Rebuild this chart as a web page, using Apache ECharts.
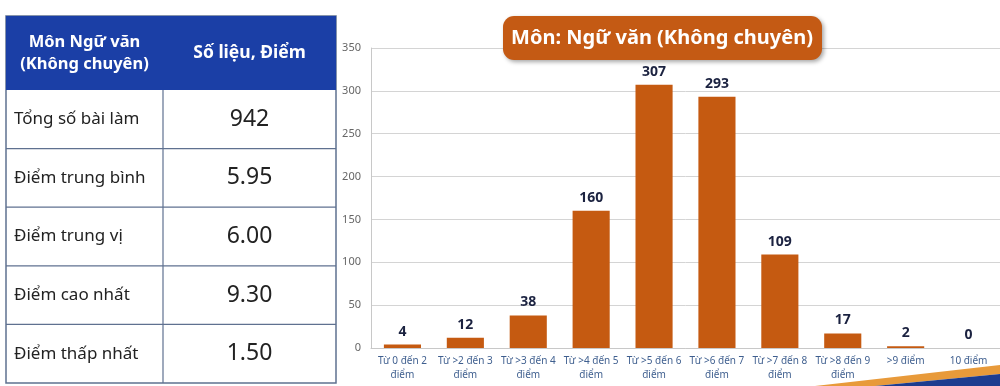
<!DOCTYPE html>
<html>
<head>
<meta charset="utf-8">
<script src="https://cdn.jsdelivr.net/npm/echarts@6/dist/echarts.min.js"></script>
<style>
html,body{margin:0;padding:0;background:#fff;}
#main{width:1000px;height:386px;}
</style>
</head>
<body>
<div id="main"></div>
<script>
const categories = ['Từ 0 đến 2\nđiểm','Từ >2 đến 3\nđiểm','Từ >3 đến 4\nđiểm','Từ >4 đến 5\nđiểm','Từ >5 đến 6\nđiểm','Từ >6 đến 7\nđiểm','Từ >7 đến 8\nđiểm','Từ >8 đến 9\nđiểm','>9 điểm','10 điểm'];
const counts = [4, 12, 38, 160, 307, 293, 109, 17, 2, 0];
const yTicks = [0, 50, 100, 150, 200, 250, 300, 350];
const chartTitle = 'Môn: Ngữ văn (Không chuyên)';
const tableHeader = ['Môn Ngữ văn\n(Không chuyên)', 'Số liệu, Điểm'];
const tableLabels = ['Tổng số bài làm', 'Điểm trung bình', 'Điểm trung vị', 'Điểm cao nhất', 'Điểm thấp nhất'];
const tableValues = ['942', '5.95', '6.00', '9.30', '1.50'];

const FONT = '"Noto Sans", "Open Sans", sans-serif';
const chart = echarts.init(document.getElementById('main'));

// table geometry
const tL = 6, tR = 336, tTop = 16, hBot = 90, tBot = 383, colX = 163;
const rowH = (tBot - hBot) / tableLabels.length;
const border = '#5f7190';
const g = [];
// bottom-right swoosh (behind everything)
g.push({type:'polygon', shape:{points:[[815,386],[1000,365],[1000,374],[875,386]]}, style:{fill:'#e89a3a'}, z:-10});
g.push({type:'polygon', shape:{points:[[875,386],[1000,374],[1000,386]]}, style:{fill:'#1d3c8f'}, z:-10});
g.push({type:'rect', shape:{x:tL, y:tTop, width:tR-tL, height:tBot-tTop}, style:{fill:'#fff', stroke:border, lineWidth:1.5}, z:10});
g.push({type:'rect', shape:{x:tL, y:tTop, width:tR-tL, height:hBot-tTop}, style:{fill:'#1b3fa6'}, z:11});
g.push({type:'text', x:(tL+colX)/2, y:(tTop+hBot)/2, style:{text:tableHeader[0], fill:'#fff', font:'bold 16.5px '+FONT, align:'center', verticalAlign:'middle', lineHeight:22}, z:12});
g.push({type:'text', x:(colX+tR)/2, y:(tTop+hBot)/2, style:{text:tableHeader[1], fill:'#fff', font:'bold 17.5px '+FONT, align:'center', verticalAlign:'middle'}, z:12});
g.push({type:'line', shape:{x1:colX, y1:hBot, x2:colX, y2:tBot}, style:{stroke:border, lineWidth:1.2}, z:12});
tableLabels.forEach((lab, i) => {
  const y0 = hBot + i*rowH;
  if (i > 0) g.push({type:'line', shape:{x1:tL, y1:y0, x2:tR, y2:y0}, style:{stroke:border, lineWidth:1.2}, z:12});
  g.push({type:'text', x:14, y:y0+rowH/2, style:{text:lab, fill:'#222', font:'17px '+FONT, align:'left', verticalAlign:'middle'}, z:12});
  g.push({type:'text', x:(colX+tR)/2, y:y0+rowH/2, style:{text:tableValues[i], fill:'#222', font:'23px '+FONT, align:'center', verticalAlign:'middle'}, z:12});
});
// title box
g.push({type:'rect', shape:{x:503, y:16, width:319, height:44, r:11}, style:{fill:'#c45a14', shadowBlur:4, shadowOffsetX:2, shadowOffsetY:2, shadowColor:'rgba(0,0,0,0.35)'}, z:10});
g.push({type:'text', x:662, y:38, style:{text:chartTitle, fill:'#fff', font:'bold 20px '+FONT, align:'center', verticalAlign:'middle'}, z:11});

chart.setOption({
  animation:false,
  backgroundColor:'#fff',
  grid:{left:371, right:0, top:48, bottom:38, containLabel:false},
  xAxis:{type:'category', data:categories,
    axisLine:{lineStyle:{color:'#c8c8c8'}}, axisTick:{show:false},
    axisLabel:{interval:0, color:'#3f5f8f', fontSize:10, fontFamily:FONT, lineHeight:14, margin:6}},
  yAxis:{type:'value', min:yTicks[0], max:yTicks[yTicks.length-1], interval:50,
    axisLine:{show:true, lineStyle:{color:'#c8c8c8'}}, axisTick:{show:false},
    axisLabel:{color:'#666', fontSize:11, fontFamily:FONT, margin:10},
    splitLine:{lineStyle:{color:'#d4d4d4'}}},
  series:[{type:'bar', data:counts, barCategoryGap:'41%', z:5,
    itemStyle:{color:'#c55a11'},
    label:{show:true, position:'top', color:'#1b2240', fontWeight:'bold', fontSize:14, fontFamily:FONT, distance:6}}],
  graphic:{elements:g}
});
</script>
</body>
</html>
